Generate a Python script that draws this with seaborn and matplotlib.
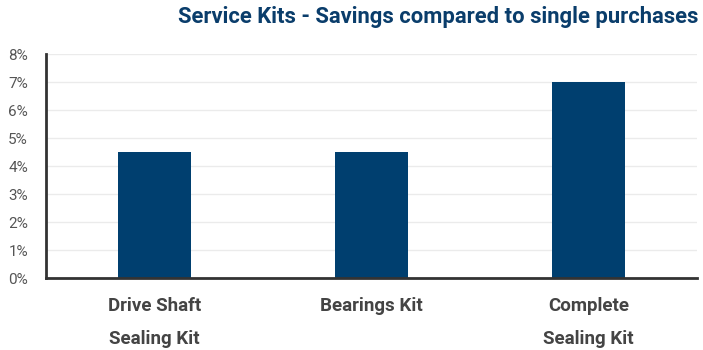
import matplotlib
matplotlib.use("Agg")
import matplotlib.pyplot as plt
import seaborn as sns
import pandas as pd
from matplotlib.ticker import PercentFormatter

categories = ["Drive Shaft\nSealing Kit", "Bearings Kit", "Complete\nSealing Kit"]
savings = [4.5, 4.5, 7.0]
yticks = [0, 1, 2, 3, 4, 5, 6, 7, 8]

df = pd.DataFrame({"kit": categories, "saving": savings})

sns.set_theme(style="white")
fam = ["Roboto", "DejaVu Sans"]
plt.rcParams["font.family"] = fam

fig = plt.figure(figsize=(7.03, 3.5), dpi=100)
ax = fig.add_axes([46/703, 72/350, 651/703, 224/350])

sns.barplot(data=df, x="kit", y="saving", color="#003f6f", saturation=1,
            width=0.34, linewidth=0, ax=ax)

ax.set_ylim(0, 8)
ax.set_yticks(yticks)
ax.yaxis.set_major_formatter(PercentFormatter(decimals=0))
ax.yaxis.grid(True, color="#ebebeb", linewidth=1)
ax.set_axisbelow(True)
ax.set_xlabel("")
ax.set_ylabel("")
for s in ["top", "right"]:
    ax.spines[s].set_visible(False)
for s in ["left", "bottom"]:
    ax.spines[s].set_color("#333333")
    ax.spines[s].set_linewidth(2)
ax.tick_params(axis="y", length=0, pad=13, labelsize=11, labelcolor="#555555")
ax.tick_params(axis="x", length=0, pad=14)
for lab in ax.get_xticklabels():
    lab.set_fontweight("bold")
    lab.set_fontsize(13.5)
    lab.set_color("#444444")
    lab.set_linespacing(2.05)
    lab.set_verticalalignment("top")

fig.text(698/703, 1 - 17/350, "Service Kits - Savings compared to single purchases",
         ha="right", va="center", fontsize=15.8, fontweight="bold",
         color="#0a3d6b")

fig.savefig("out.png", dpi=100)
